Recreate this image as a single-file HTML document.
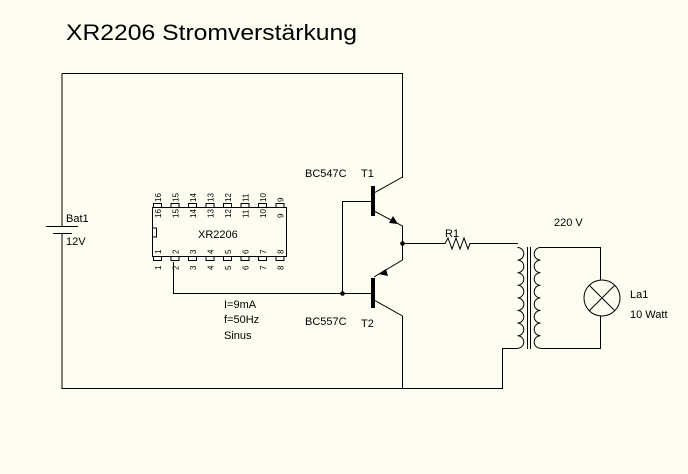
<!DOCTYPE html>
<html><head><meta charset="utf-8"><style>
html,body{margin:0;padding:0;background:#fefdf1;}
svg{display:block;}
text{font-family:"Liberation Sans",Arial,sans-serif;fill:#000;}
</style></head><body>
<svg width="688" height="474" viewBox="0 0 688 474" xmlns="http://www.w3.org/2000/svg">
<rect width="688" height="474" fill="#fefdf1"/>
<text x="66" y="40" font-size="22" textLength="291" lengthAdjust="spacingAndGlyphs">XR2206 Stromverstärkung</text>
<g stroke="#000" stroke-width="1" fill="none">
<path d="M62 73.5 H402.5 V178"/>
<path d="M62 73.5 V226"/>
<path d="M62 234 V388.5 H502.5 V348.5 H518"/>
<line x1="46" y1="226.5" x2="78" y2="226.5"/>
<line x1="53" y1="233.5" x2="72" y2="233.5"/>
<path d="M374 193 L402.5 177"/>
<path d="M374 211 L402.5 226 V260 L374 277"/>
<path d="M374 300 L402.5 316 V388"/>
<path d="M342.5 293 V201.5 H372"/>
<path d="M173.5 262 V293.5 H372"/>
<path d="M402 243.5 H445 L448 238 L452 249 L456 238 L460 249 L464 238 L468 249 L470 243.5 H518"/>
<path d="M517.5 247.5 a6.3 6.3 0 0 1 0 12.6 a6.3 6.3 0 0 1 0 12.6 a6.3 6.3 0 0 1 0 12.6 a6.3 6.3 0 0 1 0 12.6 a6.3 6.3 0 0 1 0 12.6 a6.3 6.3 0 0 1 0 12.6 a6.3 6.3 0 0 1 0 12.6 a6.3 6.3 0 0 1 0 12.6"/>
<path d="M540.5 247.5 a6.3 6.3 0 0 0 0 12.6 a6.3 6.3 0 0 0 0 12.6 a6.3 6.3 0 0 0 0 12.6 a6.3 6.3 0 0 0 0 12.6 a6.3 6.3 0 0 0 0 12.6 a6.3 6.3 0 0 0 0 12.6 a6.3 6.3 0 0 0 0 12.6 a6.3 6.3 0 0 0 0 12.6"/>
<line x1="527.5" y1="247" x2="527.5" y2="349"/>
<line x1="530.5" y1="247" x2="530.5" y2="349"/>
<path d="M540.5 247.5 H600.5 V280"/>
<path d="M540.5 348.5 H600.5 V316"/>
<circle cx="602" cy="298" r="18"/>
<line x1="589" y1="285" x2="615" y2="311"/>
<line x1="615" y1="285" x2="589" y2="311"/>
<rect x="152.5" y="207.5" width="134" height="49"/>
<rect x="152.5" y="228" width="4" height="9"/>
</g>
<rect x="371" y="186" width="4" height="30" fill="#000"/>
<rect x="371" y="278" width="4" height="30" fill="#000"/>
<polygon points="398,224 389,223 393,216" fill="#000"/>
<polygon points="378,274 386,269 388,276" fill="#000"/>
<circle cx="402.5" cy="243.5" r="2.3" fill="#000"/>
<circle cx="342.5" cy="293.5" r="2.3" fill="#000"/>
<g stroke="#000" fill="#fefdf1" stroke-width="1">
<rect x="153.5" y="203.5" width="8" height="4"/><rect x="171" y="203.5" width="8" height="4"/><rect x="188.5" y="203.5" width="8" height="4"/><rect x="206" y="203.5" width="8" height="4"/><rect x="223.5" y="203.5" width="8" height="4"/><rect x="241" y="203.5" width="8" height="4"/><rect x="258.5" y="203.5" width="8" height="4"/><rect x="276" y="203.5" width="8" height="4"/>
<rect x="153.5" y="256.5" width="8" height="4"/><rect x="171" y="256.5" width="8" height="4"/><rect x="188.5" y="256.5" width="8" height="4"/><rect x="206" y="256.5" width="8" height="4"/><rect x="223.5" y="256.5" width="8" height="4"/><rect x="241" y="256.5" width="8" height="4"/><rect x="258.5" y="256.5" width="8" height="4"/><rect x="276" y="256.5" width="8" height="4"/>
</g>
<g font-size="8">
<text transform="translate(161,202) rotate(-90)">16</text><text transform="translate(178.5,202) rotate(-90)">15</text><text transform="translate(196,202) rotate(-90)">14</text><text transform="translate(213.5,202) rotate(-90)">13</text><text transform="translate(231,202) rotate(-90)">12</text><text transform="translate(248.5,202) rotate(-90)">11</text><text transform="translate(266,202) rotate(-90)">10</text><text transform="translate(283.5,202) rotate(-90)">9</text>
<text transform="translate(161,218) rotate(-90)">16</text><text transform="translate(178.5,218) rotate(-90)">15</text><text transform="translate(196,218) rotate(-90)">14</text><text transform="translate(213.5,218) rotate(-90)">13</text><text transform="translate(231,218) rotate(-90)">12</text><text transform="translate(248.5,218) rotate(-90)">11</text><text transform="translate(266,218) rotate(-90)">10</text><text transform="translate(283.5,218) rotate(-90)">9</text>
<text transform="translate(161,254) rotate(-90)">1</text><text transform="translate(178.5,254) rotate(-90)">2</text><text transform="translate(196,254) rotate(-90)">3</text><text transform="translate(213.5,254) rotate(-90)">4</text><text transform="translate(231,254) rotate(-90)">5</text><text transform="translate(248.5,254) rotate(-90)">6</text><text transform="translate(266,254) rotate(-90)">7</text><text transform="translate(283.5,254) rotate(-90)">8</text>
<text transform="translate(161,270) rotate(-90)">1</text><text transform="translate(178.5,270) rotate(-90)">2</text><text transform="translate(196,270) rotate(-90)">3</text><text transform="translate(213.5,270) rotate(-90)">4</text><text transform="translate(231,270) rotate(-90)">5</text><text transform="translate(248.5,270) rotate(-90)">6</text><text transform="translate(266,270) rotate(-90)">7</text><text transform="translate(283.5,270) rotate(-90)">8</text>
</g>
<g font-size="11">
<text x="198" y="238">XR2206</text>
<text x="66" y="222">Bat1</text>
<text x="66" y="245">12V</text>
<text x="305" y="177">BC547C</text>
<text x="361" y="177">T1</text>
<text x="305" y="325">BC557C</text>
<text x="361" y="327">T2</text>
<text x="224" y="308">I=9mA</text>
<text x="224" y="323">f=50Hz</text>
<text x="224" y="339">Sinus</text>
<text x="445" y="237">R1</text>
<text x="554" y="226">220 V</text>
<text x="630" y="298">La1</text>
<text x="630" y="318">10 Watt</text>
</g>
</svg>
</body></html>
